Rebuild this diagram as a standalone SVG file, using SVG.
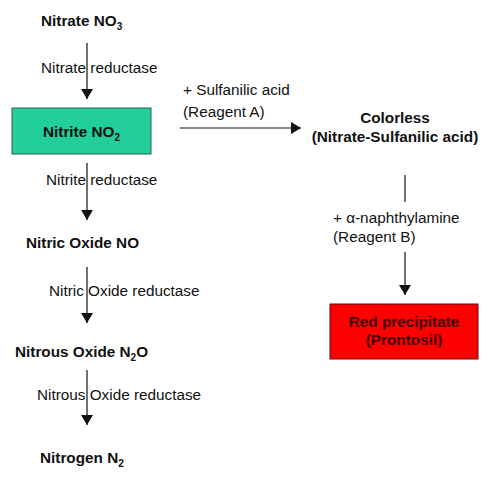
<svg xmlns="http://www.w3.org/2000/svg" width="500" height="488" viewBox="0 0 500 488">
<style>
text{font-family:"Liberation Sans",Arial,sans-serif;font-size:15.3px;fill:#111}
.b{font-weight:bold}
.sub{font-size:10px}
.ln{stroke:#111;stroke-width:1.2;fill:none}
</style>
<defs>
<marker id="ah" viewBox="0 0 10 12" refX="10" refY="6" markerWidth="10" markerHeight="12" markerUnits="userSpaceOnUse" orient="auto">
<path d="M0,0 L10,6 L0,12 z" fill="#111"/>
</marker>
</defs>
<rect width="500" height="488" fill="#fff"/>
<g id="connectors">
<line class="ln" x1="87" y1="43" x2="87" y2="99" marker-end="url(#ah)"/>
<line class="ln" x1="87" y1="163" x2="87" y2="220" marker-end="url(#ah)"/>
<line class="ln" x1="87" y1="267" x2="87" y2="323" marker-end="url(#ah)"/>
<line class="ln" x1="87" y1="370" x2="87" y2="425" marker-end="url(#ah)"/>
<line class="ln" x1="180" y1="128" x2="301" y2="128" marker-end="url(#ah)"/>
<line class="ln" x1="405" y1="175" x2="405" y2="202"/>
<line class="ln" x1="405" y1="252" x2="405" y2="295" marker-end="url(#ah)"/>
<text x="41" y="73">Nitrate reductase</text>
<text x="46" y="185">Nitrite reductase</text>
<text x="49" y="296">Nitric Oxide reductase</text>
<text x="37" y="400">Nitrous Oxide reductase</text>
<text x="183" y="95">+ Sulfanilic acid</text>
<text x="183" y="117">(Reagent A)</text>
<text x="333" y="223">+ α-naphthylamine</text>
<text x="333" y="242">(Reagent B)</text>
</g>
<g id="nitrate"><text class="b" x="41" y="26">Nitrate NO<tspan class="sub" dy="4">3</tspan></text></g>
<g id="nitrite">
<rect x="12" y="108" width="139" height="46" fill="#22cf9a" stroke="#2f5f50" stroke-width="1"/>
<text class="b" x="43" y="137">Nitrite NO<tspan class="sub" dy="4">2</tspan></text>
</g>
<g id="nitric-oxide"><text class="b" x="26" y="248">Nitric Oxide NO</text></g>
<g id="nitrous-oxide"><text class="b" x="15" y="357">Nitrous Oxide N<tspan class="sub" dy="4">2</tspan><tspan dy="-4">O</tspan></text></g>
<g id="nitrogen"><text class="b" x="40" y="463">Nitrogen N<tspan class="sub" dy="4">2</tspan></text></g>
<g id="colorless">
<text class="b" x="395" y="123" text-anchor="middle">Colorless</text>
<text class="b" x="395" y="142" text-anchor="middle">(Nitrate-Sulfanilic acid)</text>
</g>
<g id="red-precipitate">
<rect x="330" y="304" width="148" height="55" fill="#ff0000" stroke="#551111" stroke-width="1"/>
<text class="b" x="404" y="327" text-anchor="middle" style="fill:#400000">Red precipitate</text>
<text class="b" x="404" y="345" text-anchor="middle" style="fill:#400000">(Prontosil)</text>
</g>
</svg>
